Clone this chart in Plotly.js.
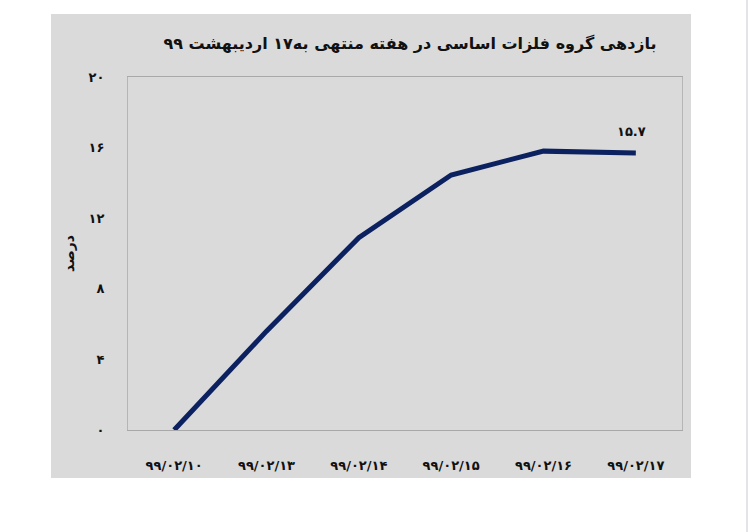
<!DOCTYPE html>
<html>
<head>
<meta charset="utf-8">
<script src="https://cdn.plot.ly/plotly-3.0.1.min.js"></script>
<style>html,body{margin:0;padding:0;background:#fff;}#chart{width:750px;height:532px;}</style>
</head>
<body>
<div id="chart"></div>
<script>
var categories = ['۹۹/۰۲/۱۰', '۹۹/۰۲/۱۳', '۹۹/۰۲/۱۴', '۹۹/۰۲/۱۵', '۹۹/۰۲/۱۶', '۹۹/۰۲/۱۷'];
var returns = [0, 5.6, 10.9, 14.45, 15.8, 15.7];
var yTickVals = [0, 4, 8, 12, 16, 20];
var yTickText = ['۰', '۴', '۸', '۱۲', '۱۶', '۲۰'];
var lastLabel = '۱۵.۷';
var titleText = 'بازدهی گروه فلزات اساسی در هفته منتهی به۱۷ اردیبهشت ۹۹';
var yTitle = 'درصد';

var W = 750, H = 532;
var L = 128, R = 682, T = 77, B = 430;
var pw = R - L, ph = B - T;
function px(x) { return (x - L) / pw; }
function py(y) { return (B - y) / ph; }

var font = 'DejaVu Sans';
var trace = {
  x: categories, y: returns, type: 'scatter', mode: 'lines',
  line: {color: '#0c2260', width: 5}, hoverinfo: 'none'
};
var layout = {
  width: W, height: H,
  margin: {l: L, r: W - R, t: T, b: H - B, pad: 0},
  paper_bgcolor: '#ffffff', plot_bgcolor: '#dadada',
  showlegend: false,
  font: {family: font, color: '#111'},
  title: {
    text: '<b>' + titleText + '</b>', font: {family: font, size: 16, color: '#111'},
    x: 410 / W, xanchor: 'center', xref: 'container', y: 1 - 43 / H, yanchor: 'middle', yref: 'container'
  },
  xaxis: {
    type: 'category', showgrid: false, zeroline: false,
    showline: true, mirror: true, linecolor: '#a8a8a8', linewidth: 1,
    ticks: '', ticklabelstandoff: 23,
    tickfont: {family: font, size: 13, color: '#111', weight: 'bold'},
    range: [-0.5, 5.5], fixedrange: true
  },
  yaxis: {
    range: [0, 20], showgrid: false, zeroline: false,
    showline: true, mirror: true, linecolor: '#b5b5b5', linewidth: 1,
    tickvals: yTickVals, ticktext: yTickText, ticks: '', ticklabelstandoff: 20,
    tickfont: {family: font, size: 13, color: '#111', weight: 'bold'},
    title: {text: yTitle, font: {family: font, size: 14, color: '#111', weight: 'bold'}, standoff: 10},
    fixedrange: true
  },
  shapes: [
    {type: 'rect', xref: 'paper', yref: 'paper', layer: 'below',
     x0: px(51), x1: px(691), y0: py(478), y1: py(14),
     fillcolor: '#dadada', line: {width: 0}},
    {type: 'line', xref: 'paper', yref: 'paper', layer: 'below',
     x0: px(747), x1: px(747), y0: py(532), y1: py(0),
     line: {color: '#e4e4e8', width: 2}}
  ],
  annotations: [
    {x: categories[categories.length - 1], y: returns[returns.length - 1], xref: 'x', yref: 'y',
     text: '<b>' + lastLabel + '</b>', showarrow: false, yshift: 21, xshift: -4,
     font: {family: font, size: 13, color: '#111'}}
  ]
};
Plotly.newPlot('chart', [trace], layout, {displayModeBar: false, staticPlot: true});
</script>
</body>
</html>
